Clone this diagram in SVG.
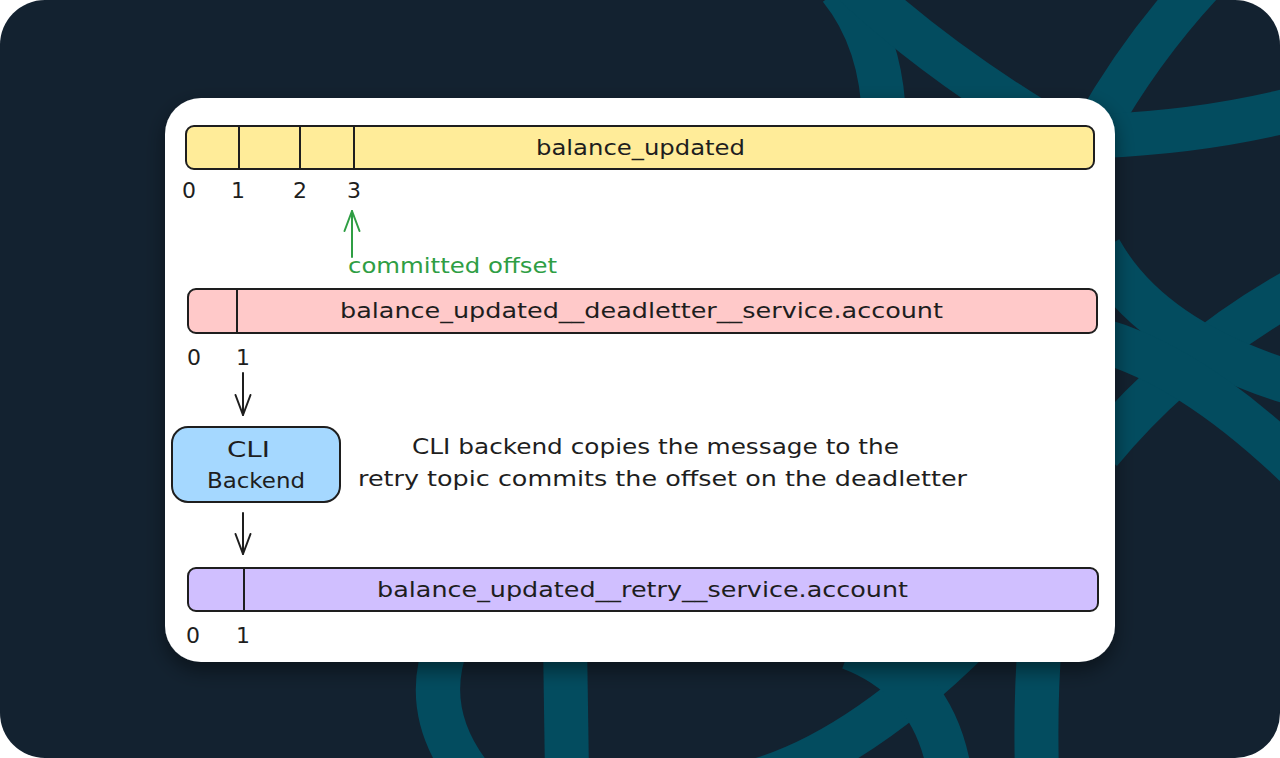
<svg xmlns="http://www.w3.org/2000/svg" width="1280" height="758" viewBox="0 0 1280 758">
  <defs>
    <clipPath id="bgclip"><rect x="0" y="0" width="1280" height="758" rx="45" ry="45"/></clipPath>
    <filter id="shadow" x="-10%" y="-10%" width="120%" height="130%">
      <feDropShadow dx="0" dy="8" stdDeviation="10" flood-color="#000000" flood-opacity="0.45"/>
    </filter>
    <marker id="ah" viewBox="-22 -10 24 20" markerWidth="24" markerHeight="20" markerUnits="userSpaceOnUse" refX="0" refY="0" orient="auto">
      <path d="M -20 -7.5 L 0 0 L -20 7.5" fill="none" stroke="#1e1e1e" stroke-width="2" stroke-linecap="round" stroke-linejoin="round"/>
    </marker>
    <marker id="ahg" viewBox="-22 -10 24 20" markerWidth="24" markerHeight="20" markerUnits="userSpaceOnUse" refX="0" refY="0" orient="auto">
      <path d="M -20 -7.5 L 0 0 L -20 7.5" fill="none" stroke="#2f9e44" stroke-width="2" stroke-linecap="round" stroke-linejoin="round"/>
    </marker>
  </defs>
  <style>
    .band { fill: none; stroke: #034c5f; stroke-width: 44; stroke-linecap: butt; }
    .bar { stroke: #1e1e1e; stroke-width: 2; }
    .div { stroke: #1e1e1e; stroke-width: 2; }
    .t { font-family: "DejaVu Sans", "Liberation Sans", sans-serif; font-size: 21px; fill: #1e1e1e; }
    .n { font-family: "DejaVu Sans", "Liberation Sans", sans-serif; font-size: 22px; fill: #1e1e1e; text-anchor: middle; }
    .b { font-size: 22px; }
    .g { fill: #2f9e44; }
    .conn { fill: none; stroke: #1e1e1e; stroke-width: 2; stroke-linecap: round; }
    .conn-g { fill: none; stroke: #2f9e44; stroke-width: 2; stroke-linecap: round; }
  </style>

  <rect x="0" y="0" width="1280" height="758" fill="#ffffff"/>
  <g id="background" clip-path="url(#bgclip)">
    <rect x="0" y="0" width="1280" height="758" fill="#132230"/>
    <path class="band" d="M 840 -12 Q 882 40 884 120"/>
    <path class="band" d="M 855 -15 Q 930 55 1035 120"/>
    <path class="band" stroke-width="42" d="M 1200 -15 Q 1140 50 1095 130"/>
    <path class="band" stroke-width="41" d="M 1290 110 Q 1200 132 1100 136"/>
    <path class="band" d="M 1100 452 Q 1180 355 1295 290"/>
    <path class="band" stroke-width="42" d="M 1100 250 Q 1150 340 1295 384"/>
    <path class="band" stroke-width="42" d="M 1100 340 Q 1190 365 1295 465"/>
    <path class="band" stroke-width="47" d="M 448 640 Q 420 710 470 775"/>
    <path class="band" stroke-width="47" d="M 565 640 L 567 775"/>
    <path class="band" stroke-width="42" d="M 740 785 Q 850 760 975 635"/>
    <path class="band" d="M 850 648 Q 935 680 950 775"/>
    <path class="band" stroke-width="47" d="M 1040 640 Q 1035 700 1037 775"/>
  </g>

  <rect id="card" x="165" y="98" width="950" height="564" rx="36" ry="36" fill="#ffffff" filter="url(#shadow)"/>

  <g id="topic-balance-updated">
    <rect class="bar" x="186" y="126" width="908" height="43" rx="8" ry="8" fill="#ffec99"/>
    <line class="div" x1="239" y1="126" x2="239" y2="169"/>
    <line class="div" x1="300" y1="126" x2="300" y2="169"/>
    <line class="div" x1="354" y1="126" x2="354" y2="169"/>
    <text class="t" x="536" y="155" textLength="209" lengthAdjust="spacingAndGlyphs">balance_updated</text>
    <text class="n" x="189" y="198">0</text>
    <text class="n" x="238" y="198">1</text>
    <text class="n" x="300" y="198">2</text>
    <text class="n" x="354" y="198">3</text>
  </g>

  <g id="committed-offset">
    <text class="t g" x="348" y="273" textLength="209" lengthAdjust="spacingAndGlyphs">committed offset</text>
  </g>

  <g id="topic-deadletter">
    <rect class="bar" x="188" y="289" width="909" height="44" rx="8" ry="8" fill="#ffc9c9"/>
    <line class="div" x1="237" y1="289" x2="237" y2="333"/>
    <text class="t" x="340" y="318" textLength="603" lengthAdjust="spacingAndGlyphs">balance_updated__deadletter__service.account</text>
    <text class="n" x="194" y="365">0</text>
    <text class="n" x="243" y="365">1</text>
  </g>

  <g id="cli-backend">
    <rect class="bar" x="172" y="427" width="168" height="75" rx="16" ry="16" fill="#a5d8ff"/>
    <text class="t b" x="227" y="457" textLength="43" lengthAdjust="spacingAndGlyphs">CLI</text>
    <text class="t b" x="207" y="488" textLength="98" lengthAdjust="spacingAndGlyphs">Backend</text>
  </g>

  <g id="note">
    <text class="t" x="412" y="454" textLength="487" lengthAdjust="spacingAndGlyphs">CLI backend copies the message to the</text>
    <text class="t" x="358" y="486" textLength="609" lengthAdjust="spacingAndGlyphs">retry topic commits the offset on the deadletter</text>
  </g>

  <g id="topic-retry">
    <rect class="bar" x="188" y="568" width="910" height="43" rx="8" ry="8" fill="#d0bfff"/>
    <line class="div" x1="244" y1="568" x2="244" y2="611"/>
    <text class="t" x="377" y="597" textLength="531" lengthAdjust="spacingAndGlyphs">balance_updated__retry__service.account</text>
    <text class="n" x="193" y="643">0</text>
    <text class="n" x="243" y="643">1</text>
  </g>

  <g id="connectors">
    <line class="conn-g" x1="352" y1="257" x2="352" y2="211" marker-end="url(#ahg)"/>
    <line class="conn" x1="243" y1="373" x2="243" y2="415" marker-end="url(#ah)"/>
    <line class="conn" x1="243" y1="513" x2="243" y2="554" marker-end="url(#ah)"/>
  </g>
</svg>
